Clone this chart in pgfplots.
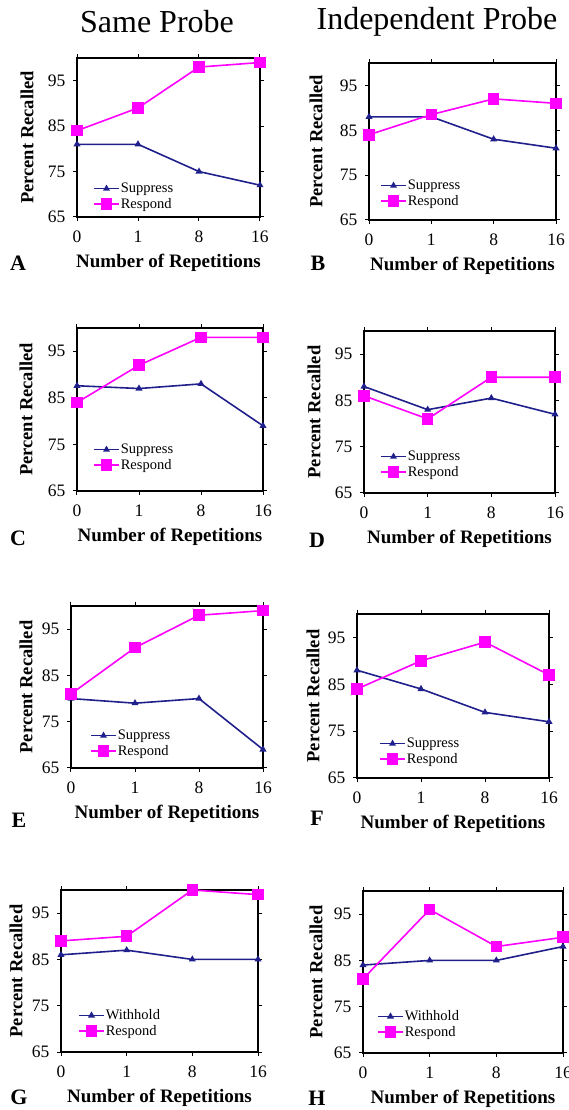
\documentclass[border=0pt]{standalone}
\usepackage{fontspec}
\setmainfont{Liberation Serif}
\usepackage{pgfplots}
\pgfplotsset{compat=1.18}
\definecolor{suppc}{RGB}{32,32,140}
\definecolor{respc}{RGB}{255,0,255}
\pgfplotsset{
 panel/.style={
  scale only axis, anchor=south west, clip=false,
  xmin=0,xmax=3,ymin=65,ymax=100,
  xtick={0,1,2,3}, xticklabels={0,1,8,16},
  ytick={65,75,85,95},
  axis line style={line width=1.7pt},
  tick align=outside, major tick length=4pt,
  tick style={black,line width=1pt},
  ticklabel style={font=\fontsize{17.5}{17.5}\selectfont},
  xticklabel style={yshift=-6pt},
  yticklabel style={xshift=-4pt},
  /pgf/number format/assume math mode=true,
  legend style={draw=none, fill=none, at={(rel axis cs:0,0)}, anchor=south west,
    font=\fontsize{14.5}{14.5}\selectfont, row sep=2pt, inner sep=0pt, nodes={inner sep=1pt}},
  legend cell align=left,
  legend image code/.code={\draw[mark repeat=2,mark phase=2] plot coordinates {(0pt,0pt)(12.5pt,0pt)(25pt,0pt)};},
 },
 supp/.style={color=suppc, line width=1.6pt, mark=triangle*, mark size=2.5pt, mark options={solid}},
 resp/.style={color=respc, line width=1.6pt, mark=square*, mark size=5pt, mark options={solid}},
}
\newcommand\panellabels[1]{%
 \node[font=\bfseries\fontsize{19}{19}\selectfont] at ([yshift=-46pt]axis description cs:0.5,0) {Number of Repetitions};
 \node[font=\bfseries\fontsize{18.5}{18.5}\selectfont, rotate=90] at ([xshift=#1]axis description cs:0,0.5) {Percent Recalled};
}
\begin{document}
\begin{tikzpicture}
\useasboundingbox (0pt,0pt) rectangle (568pt,1110pt);
\node[font=\fontsize{32}{32}\selectfont] at (157pt,1088pt) {Same Probe};
\node[font=\fontsize{32}{32}\selectfont] at (437pt,1088pt) {Independent Probe};
\foreach \l/\x/\y in {A/18/847, B/318/847, C/18/572, D/317/570, E/19/290, F/317/292, G/19/13, H/317/12}
  \node[font=\bfseries\fontsize{22}{22}\selectfont] at (\x pt,\y pt) {\l};

% A
\begin{axis}[panel, at={(77pt,893pt)}, width=183pt, height=159pt,
  legend style={xshift=16pt, yshift=6pt}]
\addplot[supp] coordinates {(0,81) (1,81) (2,75) (3,72)};
\addplot[resp] coordinates {(0,84) (1,89) (2,98) (3,99)};
\legend{Suppress, Respond}
\panellabels{-50pt}
\end{axis}
% B
\begin{axis}[panel, at={(369pt,890pt)}, width=187pt, height=157pt,
  legend style={xshift=11pt, yshift=12pt}]
\addplot[supp] coordinates {(0,88) (1,88) (2,83) (3,81)};
\addplot[resp] coordinates {(0,84) (1,88.5) (2,92) (3,91)};
\legend{Suppress, Respond}
\panellabels{-53pt}
\end{axis}
% C
\begin{axis}[panel, at={(77pt,619pt)}, width=186pt, height=163pt,
  legend style={xshift=16pt, yshift=19pt}]
\addplot[supp] coordinates {(0,87.6) (1,87) (2,88) (3,79)};
\addplot[resp] coordinates {(0,84) (1,92) (2,98) (3,98)};
\legend{Suppress, Respond}
\panellabels{-51pt}
\end{axis}
% D
\begin{axis}[panel, at={(364pt,617pt)}, width=191pt, height=162pt,
  legend style={xshift=16pt, yshift=14pt}]
\addplot[supp] coordinates {(0,88) (1,83) (2,85.5) (3,82)};
\addplot[resp] coordinates {(0,86) (1,81) (2,90) (3,90)};
\legend{Suppress, Respond}
\panellabels{-50pt}
\end{axis}
% E
\begin{axis}[panel, at={(71pt,342pt)}, width=192pt, height=162pt,
  legend style={xshift=19pt, yshift=10pt}]
\addplot[supp] coordinates {(0,80) (1,79) (2,80) (3,69)};
\addplot[resp] coordinates {(0,81) (1,91) (2,98) (3,99)};
\legend{Suppress, Respond}
\panellabels{-45pt}
\end{axis}
% F
\begin{axis}[panel, at={(357pt,332pt)}, width=192pt, height=164pt,
  legend style={xshift=22pt, yshift=12pt}]
\addplot[supp] coordinates {(0,88) (1,84) (2,79) (3,77)};
\addplot[resp] coordinates {(0,84) (1,90) (2,94) (3,87)};
\legend{Suppress, Respond}
\panellabels{-44pt}
\end{axis}
% G
\begin{axis}[panel, at={(61pt,58pt)}, width=197pt, height=162pt,
  legend style={xshift=17pt, yshift=14pt}]
\addplot[supp] coordinates {(0,86) (1,87) (2,85) (3,85)};
\addplot[resp] coordinates {(0,89) (1,90) (2,100) (3,99)};
\legend{Withhold, Respond}
\panellabels{-45pt}
\end{axis}
% H
\begin{axis}[panel, at={(363pt,57pt)}, width=200pt, height=162pt,
  legend style={xshift=14pt, yshift=14pt}]
\addplot[supp] coordinates {(0,84) (1,85) (2,85) (3,88)};
\addplot[resp] coordinates {(0,81) (1,96) (2,88) (3,90)};
\legend{Withhold, Respond}
\panellabels{-47pt}
\end{axis}
\end{tikzpicture}
\end{document}
